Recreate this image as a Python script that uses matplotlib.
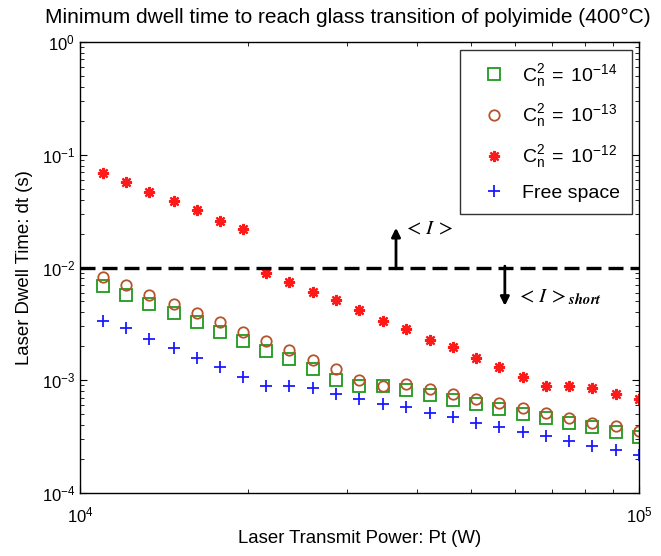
import matplotlib
matplotlib.use("Agg")
import matplotlib.pyplot as plt
from matplotlib.ticker import NullFormatter

plt.rcParams['font.family'] = ['Liberation Sans', 'DejaVu Sans']
plt.rcParams['mathtext.fontset'] = 'stix'

# Laser transmit power (W)
power = [11000, 12100, 13300, 14700, 16200, 17800, 19600, 21500, 23700, 26100,
         28700, 31600, 34800, 38300, 42200, 46400, 51100, 56200, 61900, 68100,
         75000, 82500, 90900, 100000]

# Dwell time (s) for each case
cn14 = [0.00690, 0.00570, 0.00474, 0.00393, 0.00327, 0.00266, 0.00223, 0.00183,
        0.00153, 0.00125, 0.001004, 0.000897, 0.000897, 0.000821, 0.000740, 0.000668,
        0.000612, 0.000556, 0.000499, 0.000460, 0.000415, 0.000383, 0.000345, 0.000315]
cn13 = [0.00828, 0.00700, 0.00570, 0.00474, 0.00393, 0.00327, 0.00270, 0.00223,
        0.00185, 0.00150, 0.00125, 0.001004, 0.000889, 0.000927, 0.000832, 0.000750,
        0.000678, 0.000632, 0.000564, 0.000515, 0.000466, 0.000421, 0.000393, 0.000355]
cn12 = [0.0693, 0.0577, 0.0470, 0.0386, 0.0324, 0.0258, 0.0221, 0.00890,
        0.00748, 0.00609, 0.00513, 0.00420, 0.00335, 0.00285, 0.00228, 0.00197,
        0.00157, 0.00132, 0.00107, 0.000896, 0.000896, 0.000859, 0.000750, 0.000683]
free_space = [0.00334, 0.00289, 0.00232, 0.00193, 0.00157, 0.00130, 0.00107, 0.000889,
              0.000889, 0.000853, 0.000750, 0.000684, 0.000612, 0.000575, 0.000515, 0.000469,
              0.000421, 0.000383, 0.000350, 0.000321, 0.000289, 0.000263, 0.000240, 0.000217]

threshold = 1e-2

labels = [r'$\mathregular{C_n^2\ =\ 10^{-14}}$', r'$\mathregular{C_n^2\ =\ 10^{-13}}$',
          r'$\mathregular{C_n^2\ =\ 10^{-12}}$', 'Free space']

fig = plt.figure(figsize=(6.61, 5.56), dpi=100)
ax = fig.add_axes([80/661, 1-493/556, 559/661, 451/556])

ax.plot(power, cn14, linestyle='none', marker='s', markersize=8, markerfacecolor='none',
        markeredgecolor='#1f9a1f', markeredgewidth=1.3, label=labels[0])
ax.plot(power, cn13, linestyle='none', marker='o', markersize=7.5, markerfacecolor='none',
        markeredgecolor='#b5532a', markeredgewidth=1.3, label=labels[1])
ax.plot(power, cn12, linestyle='none', marker=(8, 2, 0), markersize=8,
        markeredgecolor='#ff1a1a', markeredgewidth=1.6, label=labels[2])
ax.plot(power, free_space, linestyle='none', marker='+', markersize=9,
        markeredgecolor='#1a1aff', markeredgewidth=1.3, label=labels[3])

ax.axhline(threshold, color='black', linewidth=2.4, linestyle=(0, (4.5, 2.1)))

ax.set_xscale('log')
ax.set_yscale('log')
ax.set_xlim(1e4, 1e5)
ax.set_ylim(1e-4, 1e0)
ax.xaxis.set_minor_formatter(NullFormatter())
ax.yaxis.set_minor_formatter(NullFormatter())

ax.tick_params(which='both', direction='in', top=True, right=True, labelsize=12)
ax.tick_params(axis='x', which='both', pad=9)
ax.tick_params(which='major', length=5)
ax.tick_params(which='minor', length=3)
for s in ax.spines.values():
    s.set_linewidth(1.0)

ax.set_xlabel('Laser Transmit Power: Pt (W)', fontsize=13.4)
ax.xaxis.set_label_coords(0.5, -(530-493)/451)
ax.set_ylabel('Laser Dwell Time: dt (s)', fontsize=13.4, labelpad=6)
fig.text(348/661, 1-17/556,
         'Minimum dwell time to reach glass transition of polyimide (400\u00b0C)',
         fontsize=15, ha='center', va='center')

# arrows and annotation
ax.annotate('', xy=(0.5653, 0.588), xytext=(0.5653, 0.497), xycoords='axes fraction',
            arrowprops=dict(arrowstyle='-|>', color='black', lw=2, mutation_scale=13,
                            shrinkA=0, shrinkB=0))
ax.text(0.578, 0.585, r'$<\,I\,>$', transform=ax.transAxes, fontsize=15,
        ha='left', va='center')
ax.annotate('', xy=(0.760, 0.415), xytext=(0.760, 0.503), xycoords='axes fraction',
            arrowprops=dict(arrowstyle='-|>', color='black', lw=2, mutation_scale=13,
                            shrinkA=0, shrinkB=0))
ax.text(0.780, 0.435, r'$<\,I\,>_{\mathbfit{short}}$', transform=ax.transAxes,
        fontsize=15, ha='left', va='center')

leg = ax.legend(loc='upper right', bbox_to_anchor=((632-80)/559, (493-50)/451),
                fontsize=14, frameon=True, fancybox=False, edgecolor='black',
                borderpad=0.6, labelspacing=0.72, handletextpad=0.3, handlelength=2.3,
                borderaxespad=0)
leg.get_frame().set_linewidth(1.0)

fig.savefig('out.png', dpi=100)
